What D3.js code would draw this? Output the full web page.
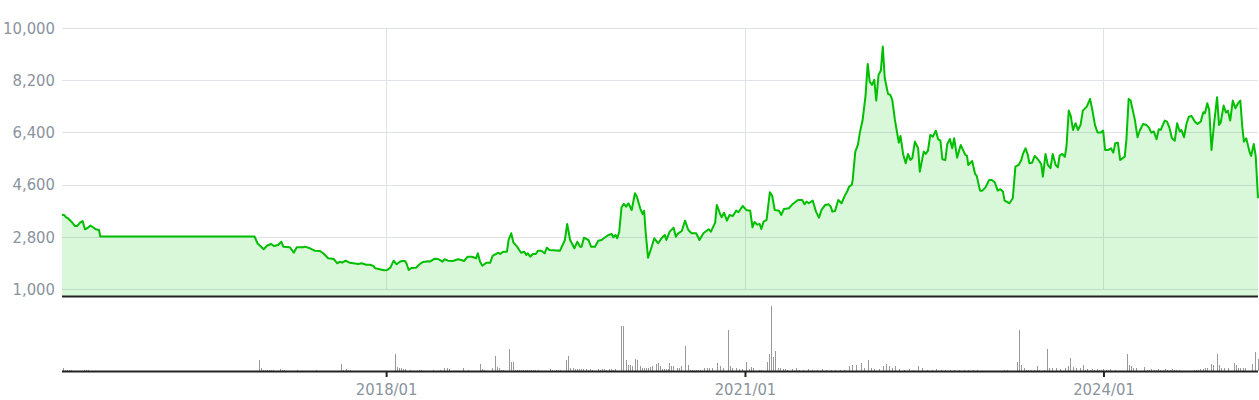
<!DOCTYPE html>
<html>
<head>
<meta charset="utf-8">
<script src="https://cdn.jsdelivr.net/npm/d3@7"></script>
<style>
  html, body { margin: 0; padding: 0; background: #fff; }
  svg { display: block; }
  text { font-family: "DejaVu Sans Condensed", "DejaVu Sans", sans-serif; }
</style>
</head>
<body>
<svg id="chart" width="1259" height="400"></svg>
<script>
// ---------- data ----------
const priceDates = [
"2015-04-17","2015-04-23","2015-04-29","2015-05-05","2015-05-16","2015-05-26","2015-06-03","2015-06-11","2015-06-19","2015-06-26",
"2015-07-03","2015-07-13","2015-07-21","2015-07-29","2015-08-08","2015-08-12","2016-11-25","2016-12-05","2016-12-13","2016-12-23",
"2017-01-03","2017-01-15","2017-01-23","2017-02-05","2017-02-15","2017-02-21","2017-03-13","2017-03-25","2017-04-03","2017-04-23",
"2017-04-28","2017-05-13","2017-05-28","2017-06-13","2017-06-23","2017-07-08","2017-07-25","2017-08-05","2017-08-13","2017-08-20",
"2017-08-30","2017-09-11","2017-09-23","2017-10-08","2017-10-18","2017-11-01","2017-11-13","2017-11-23","2017-11-29","2017-12-12",
"2017-12-26","2018-01-04","2018-01-14","2018-01-24","2018-02-02","2018-02-12","2018-02-19","2018-02-28","2018-03-04","2018-03-11",
"2018-03-19","2018-04-02","2018-04-14","2018-04-24","2018-05-09","2018-05-16","2018-05-29","2018-06-09","2018-06-22","2018-06-29",
"2018-07-09","2018-07-24","2018-08-09","2018-08-19","2018-08-27","2018-09-07","2018-09-20","2018-10-03","2018-10-08","2018-10-15",
"2018-10-22","2018-11-03","2018-11-15","2018-11-22","2018-12-03","2018-12-10","2018-12-15","2018-12-25","2019-01-05","2019-01-10",
"2019-01-18","2019-01-25","2019-02-05","2019-02-17","2019-02-27","2019-03-05","2019-03-10","2019-03-17","2019-03-25","2019-04-03",
"2019-04-10","2019-04-20","2019-04-30","2019-05-07","2019-05-15","2019-06-16","2019-07-01","2019-07-08","2019-07-17","2019-07-30",
"2019-08-08","2019-08-16","2019-08-21","2019-08-28","2019-09-11","2019-09-19","2019-10-01","2019-10-11","2019-10-21","2019-11-01",
"2019-11-11","2019-11-21","2019-11-26","2019-12-03","2019-12-08","2019-12-14","2019-12-21","2019-12-28","2020-01-04","2020-01-11",
"2020-01-21","2020-01-31","2020-02-06","2020-02-16","2020-02-23","2020-02-28","2020-03-04","2020-03-11","2020-03-19","2020-03-30",
"2020-04-11","2020-04-21","2020-05-01","2020-05-06","2020-05-16","2020-05-28","2020-06-04","2020-06-11","2020-06-22","2020-07-02",
"2020-07-12","2020-07-22","2020-08-05","2020-08-15","2020-08-27","2020-09-12","2020-09-19","2020-10-02","2020-10-07","2020-10-17",
"2020-10-22","2020-10-29","2020-11-07","2020-11-15","2020-11-25","2020-12-05","2020-12-12","2020-12-25","2021-01-05","2021-01-17",
"2021-01-24","2021-01-30","2021-02-07","2021-02-15","2021-02-20","2021-02-27","2021-03-08","2021-03-18","2021-03-25","2021-04-02",
"2021-04-15","2021-04-22","2021-04-30","2021-05-15","2021-05-27","2021-06-12","2021-06-25","2021-07-02","2021-07-08","2021-07-15",
"2021-07-27","2021-08-06","2021-08-15","2021-08-23","2021-09-03","2021-09-13","2021-09-20","2021-09-25","2021-10-03","2021-10-13",
"2021-10-23","2021-11-03","2021-11-10","2021-11-15","2021-11-23","2021-11-26","2021-12-04","2021-12-12","2021-12-18","2021-12-26",
"2022-01-04","2022-01-11","2022-01-17","2022-01-24","2022-01-31","2022-02-06","2022-02-13","2022-02-20","2022-02-26","2022-03-04",
"2022-03-14","2022-03-21","2022-03-27","2022-04-04","2022-04-11","2022-04-16","2022-04-21","2022-04-29","2022-05-07","2022-05-14",
"2022-05-21","2022-05-27","2022-06-04","2022-06-14","2022-06-19","2022-07-01","2022-07-07","2022-07-14","2022-07-21","2022-07-29",
"2022-08-07","2022-08-14","2022-08-21","2022-08-27","2022-09-05","2022-09-11","2022-09-19","2022-09-26","2022-10-02","2022-10-11",
"2022-10-22","2022-11-05","2022-11-10","2022-11-14","2022-11-26","2022-12-05","2022-12-10","2022-12-20","2022-12-27","2023-01-05",
"2023-01-17","2023-01-25","2023-02-03","2023-02-12","2023-02-20","2023-02-28","2023-03-05","2023-03-20","2023-03-30","2023-04-07",
"2023-04-17","2023-04-25","2023-04-30","2023-05-08","2023-05-15","2023-05-20","2023-05-28","2023-06-05","2023-06-12","2023-06-20",
"2023-06-25","2023-06-30","2023-07-08","2023-07-15","2023-07-23","2023-07-30","2023-08-08","2023-08-15","2023-08-20","2023-08-28",
"2023-09-05","2023-09-10","2023-09-17","2023-09-23","2023-09-30","2023-10-08","2023-10-15","2023-10-23","2023-10-30","2023-11-11",
"2023-11-21","2023-11-27","2023-12-06","2023-12-14","2023-12-24","2023-12-31","2024-01-06","2024-01-16","2024-01-24","2024-01-31",
"2024-02-06","2024-02-14","2024-02-21","2024-03-06","2024-03-11","2024-03-18","2024-03-24","2024-04-06","2024-04-14","2024-04-21",
"2024-05-01","2024-05-11","2024-05-19","2024-05-26","2024-06-03","2024-06-11","2024-06-18","2024-06-24","2024-07-06","2024-07-13",
"2024-07-21","2024-07-28","2024-08-06","2024-08-13","2024-08-21","2024-08-26","2024-09-03","2024-09-11","2024-09-18","2024-09-26",
"2024-10-06","2024-10-14","2024-10-24","2024-11-01","2024-11-06","2024-11-13","2024-11-19","2024-11-26","2024-12-04","2024-12-13",
"2024-12-19","2024-12-24","2025-01-02","2025-01-09","2025-01-15","2025-01-22","2025-01-30","2025-02-07","2025-02-15","2025-02-22",
"2025-02-28","2025-03-05","2025-03-12","2025-03-22","2025-03-27","2025-04-04","2025-04-10","2025-04-17"
];
const priceValues = [
3553,3560,3475,3440,3320,3175,3175,3290,3345,3060,
3095,3185,3130,3060,3035,2810,2810,2560,2485,2370,
2500,2552,2483,2518,2632,2460,2440,2252,2440,2440,
2460,2404,2321,2311,2232,2059,2035,1887,1942,1907,
1976,1907,1887,1862,1887,1838,1838,1794,1714,1680,
1645,1655,1735,1976,1852,1942,1966,1966,1887,1655,
1725,1735,1862,1932,1956,1950,2045,2035,1942,2025,
1976,1966,2025,2000,1965,2114,2114,2059,2232,1942,
1804,1907,1907,2138,2207,2252,2207,2287,2287,2690,
2921,2597,2460,2252,2287,2173,2232,2114,2207,2207,
2321,2321,2232,2425,2345,2321,2690,3243,2690,2404,
2632,2460,2460,2770,2690,2460,2460,2666,2690,2783,
2863,2897,2783,2863,2749,2977,3819,3933,3840,3957,
3726,4302,4184,3784,3588,3701,2921,2080,2345,2749,
2577,2749,2863,2690,2977,3115,2804,2921,3001,3356,
3035,2921,2921,2690,2921,3060,2977,3287,3898,3588,
3473,3632,3356,3553,3519,3701,3646,3864,3726,3701,
3129,3312,3219,3243,3070,3322,3381,4336,4219,3726,
3701,3553,3760,3784,3933,4071,4071,3922,4012,3957,
4046,3667,3460,3726,3898,3922,3840,3667,3691,4071,
3957,4243,4381,4529,4588,4760,5737,5968,6400,6800,
7634,8762,8152,8038,8210,7496,8383,8532,9359,8268,
7727,7693,7520,6831,6371,6047,6278,5658,5337,5658,
5450,5509,6082,5854,5047,5737,5658,5772,6313,6254,
6461,6165,6116,5475,5450,6003,6175,5854,6199,5530,
5968,5623,5599,5278,5416,4968,4899,4392,4392,4495,
4760,4760,4681,4392,4440,4357,4046,3957,4130,5219,
5278,5450,5658,5854,5623,5337,5358,5589,5509,5392,
5302,4874,5658,5278,5164,5658,5278,5199,5600,5658,
5560,5910,7152,6968,6485,6716,6485,6658,7152,7290,
7556,7234,6658,6395,6395,6464,5796,5796,5854,5703,
6027,6047,5450,5564,6141,7556,7496,6831,6234,6464,
6692,6658,6565,6393,6430,6165,6510,6485,6806,6772,
6544,6199,6116,6716,6430,6485,6234,6716,6944,6968,
6772,6692,6772,7097,7062,7407,7176,5796,6716,7614,
6658,6737,7324,7086,7152,6806,7496,7234,7407,7496,
6600,6082,6199,5737,5589,6003,5589,4130
];
const volumeDates = [
"2015-04-20","2015-04-26","2015-05-02","2015-05-09","2015-05-15","2015-06-24","2015-06-30","2015-07-06",
"2016-12-08","2016-12-14","2016-12-20","2016-12-26","2017-01-02","2017-01-08","2017-01-14","2017-01-20",
"2017-02-11","2017-02-17","2017-02-23","2017-04-04","2017-06-02","2017-08-17","2017-08-23","2017-08-30","2017-09-07","2017-09-13",
"2018-01-27","2018-02-02","2018-02-09","2018-02-16","2018-02-22","2018-02-28","2018-03-15","2018-04-12","2018-04-18","2018-05-25",
"2018-06-14","2018-06-28","2018-07-05","2018-07-11","2018-08-24","2018-09-07","2018-10-14","2018-10-20","2018-10-26","2018-11-21",
"2018-11-30","2018-12-06","2018-12-11","2018-12-18","2018-12-24","2019-01-10","2019-01-18","2019-01-23","2019-01-30","2019-02-06",
"2019-02-12","2019-02-18","2019-02-24","2019-03-01","2019-03-07","2019-03-13","2019-03-20","2019-03-26","2019-04-01","2019-04-11",
"2019-05-16","2019-05-22","2019-06-03","2019-06-09","2019-06-15","2019-07-05","2019-07-11","2019-07-17","2019-07-25","2019-08-02",
"2019-08-08","2019-08-14","2019-08-20","2019-08-26","2019-09-03","2019-09-09","2019-09-15","2019-09-21","2019-10-10","2019-10-16",
"2019-10-22","2019-10-28","2019-11-05","2019-11-12","2019-11-18","2019-11-24","2019-11-30","2019-12-20","2019-12-26","2020-01-05",
"2020-01-11","2020-01-17","2020-01-23","2020-02-01","2020-02-07","2020-02-14","2020-02-23","2020-02-28","2020-03-06","2020-03-12",
"2020-03-18","2020-03-24","2020-04-03","2020-04-10","2020-04-16","2020-04-22","2020-04-28","2020-05-06","2020-05-10","2020-05-14",
"2020-05-20","2020-05-27","2020-06-06","2020-06-14","2020-06-20","2020-07-03","2020-07-11","2020-07-17","2020-07-23","2020-07-29",
"2020-08-05","2020-08-12","2020-08-18","2020-08-30","2020-09-08","2020-09-14","2020-09-21","2020-10-09","2020-10-18","2020-10-26",
"2020-11-09","2020-11-15","2020-11-23","2020-12-06","2020-12-15","2020-12-22","2021-01-03","2021-01-13","2021-01-19","2021-01-25",
"2021-02-14","2021-02-20","2021-03-09","2021-03-15","2021-03-21","2021-03-27","2021-04-04","2021-04-13","2021-04-19","2021-04-27",
"2021-05-03","2021-05-10","2021-05-24","2021-06-05","2021-06-14","2021-06-28","2021-07-12","2021-07-26","2021-08-09","2021-08-23",
"2021-09-06","2021-09-20","2021-10-04","2021-10-18","2021-11-01","2021-11-14","2021-11-24","2021-12-06","2021-12-21","2022-01-01",
"2022-01-12","2022-01-21","2022-01-31","2022-02-14","2022-02-28","2022-03-07","2022-03-17","2022-03-27","2022-04-05","2022-04-18",
"2022-05-02","2022-05-16","2022-05-30","2022-06-13","2022-06-25","2022-07-11","2022-07-25","2022-08-08","2022-08-22","2022-09-05",
"2022-09-19","2022-10-03","2022-10-17","2022-10-31","2022-11-14","2022-11-28","2022-12-12","2023-03-03","2023-03-13","2023-04-11",
"2023-04-18","2023-04-24","2023-05-02","2023-05-10","2023-05-17","2023-05-24","2023-06-02","2023-06-11","2023-06-18","2023-07-04",
"2023-07-12","2023-07-19","2023-07-28","2023-08-08","2023-08-20","2023-09-05","2023-09-14","2023-09-21","2023-09-29","2023-10-10",
"2023-10-22","2023-10-31","2023-11-06","2023-11-13","2023-11-20","2023-11-27","2023-12-04","2023-12-11","2023-12-18","2023-12-25",
"2024-01-01","2024-01-08","2024-01-15","2024-01-22","2024-02-05","2024-03-13","2024-03-19","2024-03-25","2024-04-01","2024-04-10",
"2024-05-05","2024-05-12","2024-05-19","2024-05-26","2024-06-02","2024-06-09","2024-06-16","2024-06-23","2024-06-30","2024-07-07",
"2024-07-14","2024-07-21","2024-07-28","2024-08-04","2024-08-11","2024-08-18","2024-10-02","2024-10-09","2024-10-16","2024-10-23",
"2024-10-30","2024-11-06","2024-11-13","2024-11-24","2024-11-30","2024-12-13","2024-12-20","2024-12-24","2025-01-02","2025-01-16",
"2025-02-03","2025-02-08","2025-02-16","2025-02-22","2025-03-01","2025-03-09","2025-03-30","2025-04-09","2025-04-16"
];
const volumeValues = [
50,20,20,20,20,20,20,20,
160,50,20,20,20,20,20,20,
30,20,20,20,20,110,20,35,20,20,
260,60,50,40,30,30,20,20,20,20,
20,50,50,30,50,20,110,35,20,50,
220,60,40,20,20,335,130,130,20,20,
20,20,20,20,20,20,20,20,20,20,
30,20,20,20,20,160,220,50,40,30,
30,30,30,30,30,20,30,20,30,20,
30,30,20,30,30,20,30,680,680,160,
95,90,80,185,170,80,50,50,50,50,
60,70,110,125,80,35,35,35,35,125,
70,70,50,50,70,380,95,20,20,20,
20,20,20,50,50,50,50,125,80,40,
620,80,50,50,30,30,140,30,60,40,
20,20,130,260,980,215,305,40,40,30,
30,20,30,50,20,20,30,20,20,30,
20,20,20,20,20,70,90,90,120,50,
160,50,30,30,70,110,80,50,70,30,
20,30,20,80,40,20,20,30,20,20,
20,20,20,20,20,20,20,20,20,130,
620,90,50,20,20,20,20,80,20,20,
335,40,40,40,30,40,80,200,60,40,
40,90,20,30,20,30,20,30,20,20,
30,20,20,30,20,260,90,70,50,50,
60,20,20,30,20,20,30,20,20,30,
20,20,30,20,20,20,20,20,20,30,
30,40,50,100,90,260,90,50,40,50,
125,90,50,50,40,50,100,290,185
];
const yTickValues = [1000, 2800, 4600, 6400, 8200, 10000];
const xTickDates = ["2018-01-01", "2021-01-01", "2024-01-01"];
const xTickLabels = ["2018/01", "2021/01", "2024/01"];

// ---------- layout ----------
const W = 1259, H = 400;
const plotLeft = 62, plotRight = 1258;
const priceTop = 28, priceGridBottom = 289, priceBottom = 296;
const volBase = 371, volTop = 304.7;

const parse = d3.timeParse("%Y-%m-%d");
const prices = priceDates.map((d, i) => ({ date: parse(d), value: priceValues[i] }));
const volumes = volumeDates.map((d, i) => ({ date: parse(d), value: volumeValues[i] }));

const x = d3.scaleTime()
  .domain(d3.extent(prices, d => d.date))
  .range([plotLeft, plotRight]);
const y = d3.scaleLinear().domain([1000, 10000]).range([priceGridBottom, priceTop]);
const yv = d3.scaleLinear().domain([0, 1000]).range([volBase, volTop]);

const svg = d3.select("#chart");

// gridlines
const grid = svg.append("g");
grid.selectAll("line.h").data(yTickValues).join("line")
  .attr("x1", plotLeft).attr("x2", plotRight)
  .attr("y1", d => Math.round(y(d)) + 0.5).attr("y2", d => Math.round(y(d)) + 0.5)
  .attr("stroke", "#dfe2e7").attr("stroke-width", 1);
grid.selectAll("line.v").data(xTickDates.map(parse)).join("line")
  .attr("x1", d => Math.round(x(d)) + 0.5).attr("x2", d => Math.round(x(d)) + 0.5)
  .attr("y1", priceTop).attr("y2", priceGridBottom)
  .attr("stroke", "#dfe2e7").attr("stroke-width", 1);

// area + line
const area = d3.area().x(d => x(d.date)).y0(priceBottom).y1(d => y(d.value));
const line = d3.line().x(d => x(d.date)).y(d => y(d.value));
svg.append("path").datum(prices).attr("d", area)
  .attr("fill", "rgba(0,200,0,0.15)");
svg.append("path").datum(prices).attr("d", line)
  .attr("fill", "none").attr("stroke", "#00bf00").attr("stroke-width", 2)
  .attr("stroke-linejoin", "round");

// price bottom line
svg.append("line").attr("x1", plotLeft).attr("x2", plotRight)
  .attr("y1", priceBottom + 0.5).attr("y2", priceBottom + 0.5)
  .attr("stroke", "#222").attr("stroke-width", 2);

// y axis labels
const fmt = d3.format(",");
const yAxis = d3.axisLeft(y).tickValues(yTickValues).tickFormat(fmt).tickSize(0).tickPadding(7);
const gy = svg.append("g").attr("transform", `translate(${plotLeft},0)`).call(yAxis);
gy.select(".domain").remove();
gy.selectAll("text").attr("fill", "#8a939e").attr("font-size", "16.5px")
  .attr("font-family", "'DejaVu Sans Condensed', 'DejaVu Sans', sans-serif");

// volume bars
svg.append("g").selectAll("rect").data(volumes).join("rect")
  .attr("x", d => Math.round(x(d.date)))
  .attr("width", 1)
  .attr("y", d => yv(d.value))
  .attr("height", d => volBase - yv(d.value))
  .attr("fill", "#999")
  .attr("shape-rendering", "crispEdges");

// volume baseline
svg.append("line").attr("x1", plotLeft).attr("x2", plotRight)
  .attr("y1", volBase + 0.5).attr("y2", volBase + 0.5)
  .attr("stroke", "#222").attr("stroke-width", 2);

// x axis
const xAxis = d3.axisBottom(x).tickValues(xTickDates.map(parse))
  .tickFormat((d, i) => xTickLabels[i]).tickSize(5).tickPadding(6);
const gx = svg.append("g").attr("transform", `translate(0,${volBase + 1})`).call(xAxis);
gx.select(".domain").remove();
gx.selectAll(".tick line").attr("stroke", "#222").attr("stroke-width", 2);
gx.selectAll("text").attr("fill", "#8a939e").attr("font-size", "16.5px")
  .attr("font-family", "'DejaVu Sans Condensed', 'DejaVu Sans', sans-serif");
</script>
</body>
</html>
